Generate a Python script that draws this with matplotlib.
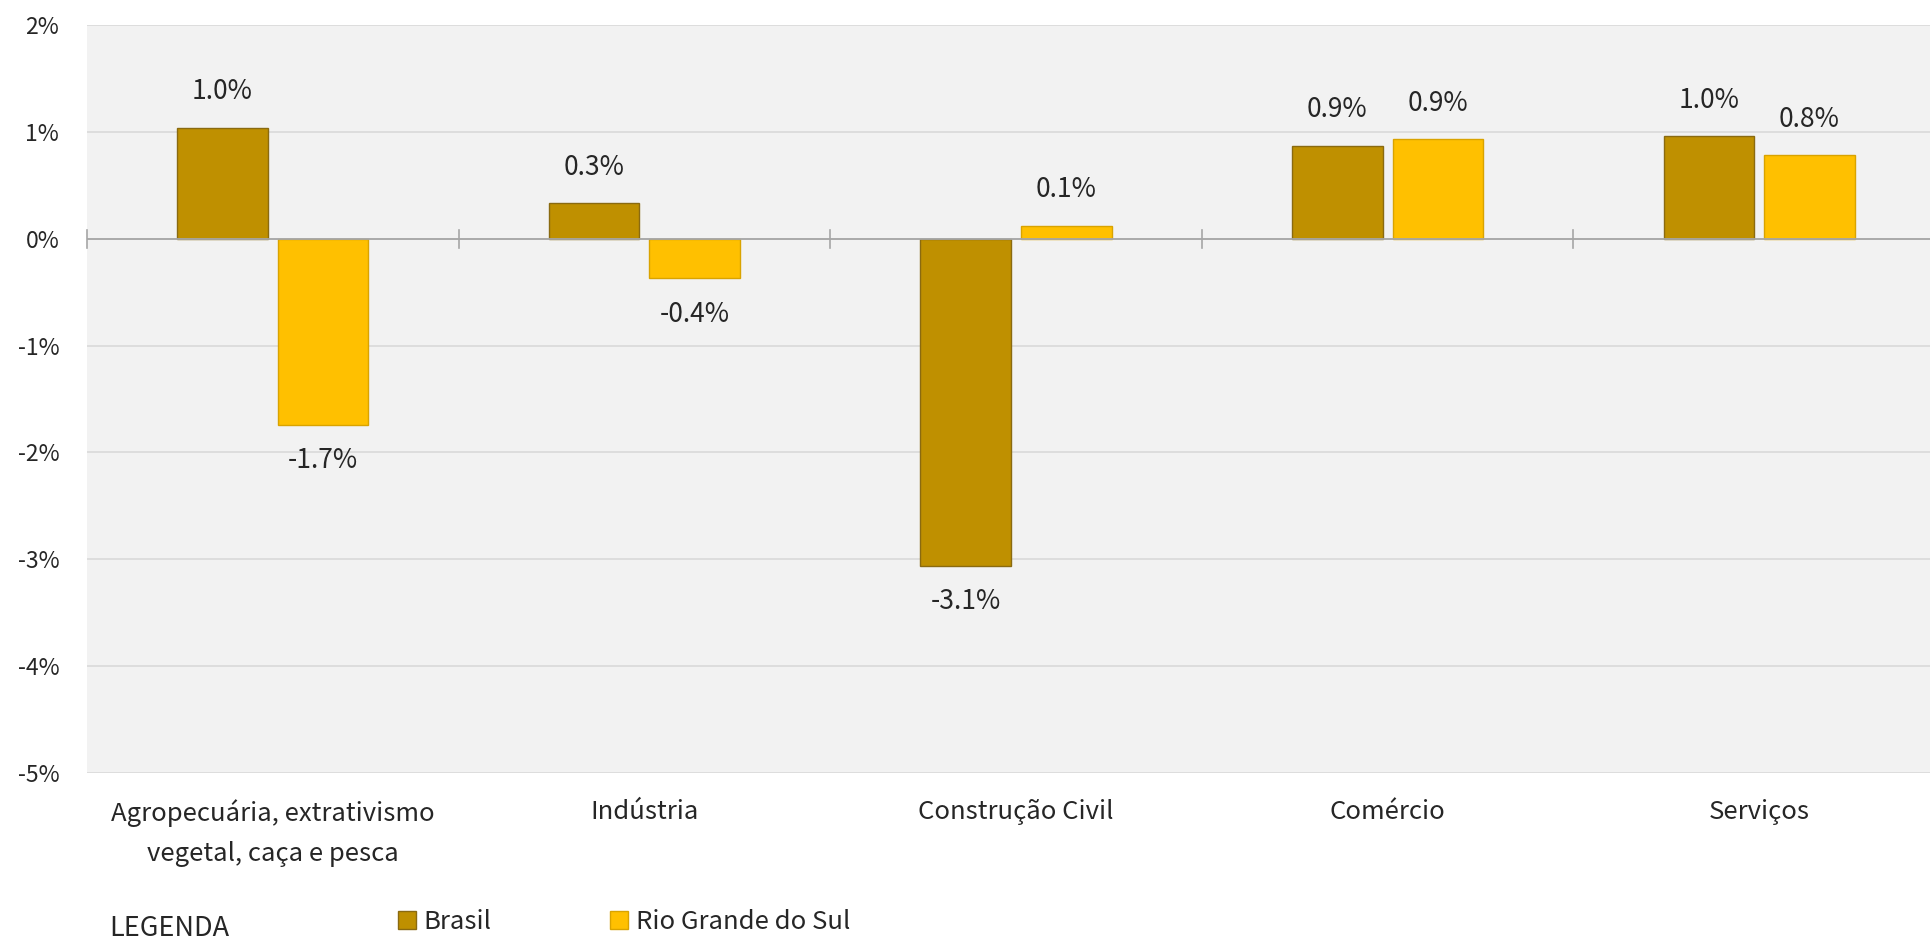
import matplotlib
matplotlib.use("Agg")
import matplotlib.pyplot as plt
import numpy as np
from matplotlib.ticker import FuncFormatter, FixedLocator

plt.rcParams['font.family'] = ['Noto Sans CJK JP', 'DejaVu Sans']

categories = ["Agropecuária, extrativismo\nvegetal, caça e pesca", "Indústria",
              "Construção Civil", "Comércio", "Serviços"]
brasil = [1.04, 0.33, -3.06, 0.87, 0.96]
rs = [-1.74, -0.37, 0.12, 0.93, 0.78]
series_names = ["Brasil", "Rio Grande do Sul"]
yticks = [2, 1, 0, -1, -2, -3, -4, -5]

c_br, e_br = "#bf9000", "#8a6a10"
c_rs, e_rs = "#ffc000", "#d9a300"
txt = "#262626"

fig = plt.figure(figsize=(19.31, 9.40), dpi=100)
ax = fig.add_axes([87/1931, 1-773/940, 1858/1931, (773-25)/940])
ax.set_facecolor("#f2f2f2")

x = np.arange(len(categories))
w = 0.244
gap = 0.027
b1 = ax.bar(x - (w+gap)/2, brasil, w, color=c_br, edgecolor=e_br, linewidth=1, zorder=3, label=series_names[0])
b2 = ax.bar(x + (w+gap)/2, rs, w, color=c_rs, edgecolor=e_rs, linewidth=1, zorder=3, label=series_names[1])

for bars, vals in ((b1, brasil), (b2, rs)):
    for rect, v in zip(bars, vals):
        xc = rect.get_x() + rect.get_width()/2
        off = 26 if v >= 0 else -26
        ax.annotate(f"{v:.1f}%", (xc, v), xytext=(0, off), textcoords="offset points",
                    ha="center", va="center", fontsize=19, color=txt)

ax.set_xlim(-0.5, len(categories) - 0.5)
ax.set_ylim(-5, 2)
ax.yaxis.set_major_locator(FixedLocator(yticks))
ax.yaxis.set_major_formatter(FuncFormatter(lambda v, p: f"{v:.0f}%"))
ax.grid(axis="y", color="#d9d9d9", linewidth=1.2, zorder=0)
ax.set_axisbelow(True)
ax.tick_params(axis="y", length=0, pad=20, labelsize=16.5, labelcolor=txt)

for s in ax.spines.values():
    s.set_visible(False)
ax.axhline(0, color="#a6a6a6", linewidth=1.3, zorder=4)

# category boundary ticks on the zero line
for b in np.arange(-0.5, len(categories) - 0.5, 1.0):
    ax.plot([b, b], [-0.085, 0.085], color="#a6a6a6", linewidth=1.2, zorder=4, clip_on=False)

ax.set_xticks(x)
ax.set_xticklabels(categories, fontsize=18.5, color=txt, linespacing=1.72)
ax.tick_params(axis="x", length=0, pad=18.5)

fig.text(109/1931, 1-928/940, "LEGENDA", fontsize=19.5, color=txt, va="center", ha="left")
fig.legend(handles=[b1, b2], labels=series_names, loc="center left",
           bbox_to_anchor=(398/1931, 1-922/940), ncol=2, frameon=False,
           fontsize=18.5, handlelength=0.7, handleheight=0.7, handletextpad=0.3,
           columnspacing=4.6, borderaxespad=0, borderpad=0, labelcolor=txt)

fig.savefig("out.png", dpi=100, facecolor="white")
